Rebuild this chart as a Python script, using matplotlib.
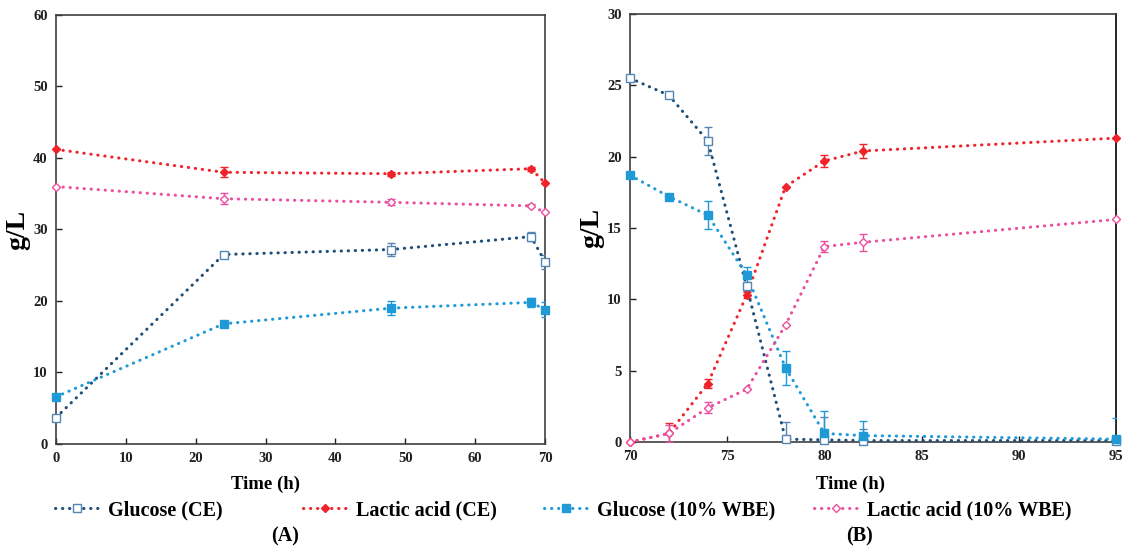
import numpy as np
import matplotlib
matplotlib.use("Agg")
import matplotlib.pyplot as plt
from matplotlib.lines import Line2D

plt.rcParams['font.family'] = ['Liberation Serif', 'DejaVu Serif']
plt.rcParams['font.weight'] = 'bold'

# ---- datos panel A ----
t_a = [0, 24, 48, 68, 70]
glu_ce_a = [3.7, 26.5, 27.2, 29.0, 25.5]
glu_ce_a_err = [0, 0, 0.9, 0.6, 1.0]
lac_ce_a = [41.2, 38.0, 37.8, 38.5, 36.5]
lac_ce_a_err = [0, 0.7, 0.3, 0.3, 0]
glu_wbe_a = [6.6, 16.8, 19.0, 19.8, 18.8]
glu_wbe_a_err = [0, 0, 1.0, 0.6, 1.1]
lac_wbe_a = [36.0, 34.3, 33.8, 33.3, 32.4]
lac_wbe_a_err = [0, 0.8, 0.4, 0.2, 0]

# ---- datos panel B ----
t_b = [70, 72, 74, 76, 78, 80, 82, 95]
glu_ce_b = [25.5, 24.3, 21.1, 10.9, 0.2, 0.15, 0.1, 0.1]
glu_ce_b_err = [0, 0, 1.0, 0.3, 1.2, 1.6, 0.8, 0]
lac_ce_b = [0.0, 0.6, 4.1, 10.3, 17.9, 19.7, 20.4, 21.3]
lac_ce_b_err = [0, 0.7, 0.3, 0.2, 0, 0.4, 0.5, 0]
glu_wbe_b = [18.7, 17.2, 15.9, 11.7, 5.2, 0.6, 0.45, 0.2]
glu_wbe_b_err = [0, 0, 1.0, 0.6, 1.2, 1.6, 1.0, 1.5]
lac_wbe_b = [0.0, 0.6, 2.4, 3.7, 8.2, 13.7, 14.0, 15.6]
lac_wbe_b_err = [0, 0.6, 0.4, 0, 0, 0.4, 0.6, 0]

c_glu_ce = '#1f4e79'
c_glu_ce_mk = '#5585b5'
c_lac_ce = '#f0232b'
c_glu_wbe = '#1f9ad6'
c_lac_wbe = '#ec4fa0'

dots = (0, (0.1, 2.2))

estilos = [
    dict(color=c_glu_ce, marker='s', mfc='white', mec=c_glu_ce_mk, ms=6, ecolor=c_glu_ce_mk),
    dict(color=c_lac_ce, marker='D', mfc=c_lac_ce, mec=c_lac_ce, ms=4.5, ecolor=c_lac_ce),
    dict(color=c_glu_wbe, marker='s', mfc=c_glu_wbe, mec=c_glu_wbe, ms=6, ecolor=c_glu_wbe),
    dict(color=c_lac_wbe, marker='D', mfc='white', mec=c_lac_wbe, ms=4.5, ecolor=c_lac_wbe),
]


def dibujar(ax, t, series):
    for (y, err), est in zip(series, estilos):
        # barras de error y linea punteada (recortadas en los ejes)
        ax.errorbar(t, y, yerr=err, color=est['color'], ecolor=est['ecolor'],
                    elinewidth=1, capsize=3, capthick=1, lw=2.2, linestyle=dots,
                    dash_capstyle='round', zorder=3)
        # marcadores sin recortar
        ax.plot(t, y, linestyle='none', marker=est['marker'], mfc=est['mfc'],
                mec=est['mec'], ms=est['ms'], mew=1, zorder=4, clip_on=False)


def formato(ax):
    for s in ax.spines.values():
        s.set_color('#404040')
        s.set_linewidth(1.2)
    ax.tick_params(direction='in', length=4, labelsize=10.5, colors='#202020',
                   width=1, pad=6)
    for lab in ax.get_xticklabels() + ax.get_yticklabels():
        lab.set_fontweight('bold')
    ax.set_ylabel('g/L', fontsize=20, fontweight='bold', labelpad=2)


fig = plt.figure(figsize=(11.34, 5.49), dpi=100)
ax1 = fig.add_axes([0.0494, 0.1913, 0.4312, 0.7814])
ax2 = fig.add_axes([0.5556, 0.1949, 0.4285, 0.7796])

dibujar(ax1, t_a, [(glu_ce_a, glu_ce_a_err), (lac_ce_a, lac_ce_a_err),
                   (glu_wbe_a, glu_wbe_a_err), (lac_wbe_a, lac_wbe_a_err)])
ax1.set_xlim(0, 70)
ax1.set_ylim(0, 60)
ax1.set_xticks(np.arange(0, 71, 10))
ax1.set_yticks(np.arange(0, 61, 10))
formato(ax1)

dibujar(ax2, t_b, [(glu_ce_b, glu_ce_b_err), (lac_ce_b, lac_ce_b_err),
                   (glu_wbe_b, glu_wbe_b_err), (lac_wbe_b, lac_wbe_b_err)])
ax2.set_xlim(70, 95)
ax2.set_ylim(0, 30)
ax2.set_xticks(np.arange(70, 96, 5))
ax2.set_yticks(np.arange(0, 31, 5))
formato(ax2)
ax2.spines['right'].set_color('black')

fig.text(0.234, 0.118, 'Time (h)', ha='center', va='center', fontsize=13.5, fontweight='bold')
fig.text(0.750, 0.118, 'Time (h)', ha='center', va='center', fontsize=13.5, fontweight='bold')
fig.text(0.251, 0.023, '(A)', ha='center', va='center', fontsize=14.5)
fig.text(0.758, 0.023, '(B)', ha='center', va='center', fontsize=14.5)

# leyenda: una entrada por posición
nombres = ['Glucose (CE)', 'Lactic acid (CE)', 'Glucose (10% WBE)', 'Lactic acid (10% WBE)']
pos_x = [55, 303, 544, 814]
for est, nombre, x in zip(estilos, nombres, pos_x):
    h = Line2D([], [], color=est['color'], lw=2.2, linestyle=dots, dash_capstyle='round',
               marker=est['marker'], mfc=est['mfc'], mec=est['mec'], ms=est['ms'])
    fig.legend([h], [nombre], loc='center left', bbox_to_anchor=(x / 1134, 0.071),
               frameon=False, handlelength=2.2, handletextpad=0.45,
               borderpad=0, borderaxespad=0, prop={'weight': 'bold', 'size': 14.5})

fig.savefig('out.png', dpi=100)
